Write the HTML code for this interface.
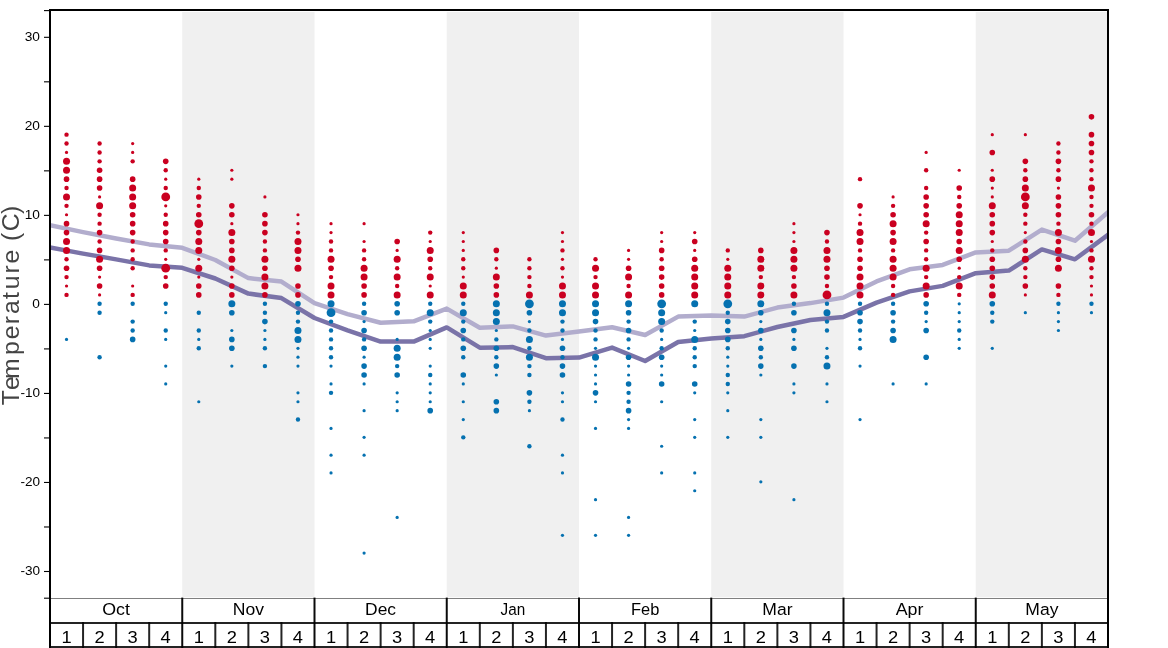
<!DOCTYPE html><html><head><meta charset="utf-8"><style>html,body{margin:0;padding:0;background:#fff;}svg{display:block;will-change:transform;}text{font-family:"Liberation Sans",sans-serif;}</style></head><body>
<svg width="1168" height="648" viewBox="0 0 1168 648">
<rect x="0" y="0" width="1168" height="648" fill="#fff"/>
<rect x="182.25" y="12" width="132.25" height="585.3" fill="#f0f0f0"/>
<rect x="446.75" y="12" width="132.25" height="585.3" fill="#f0f0f0"/>
<rect x="711.25" y="12" width="132.25" height="585.3" fill="#f0f0f0"/>
<rect x="975.75" y="12" width="132.25" height="585.3" fill="#f0f0f0"/>
<line x1="50" y1="598.5" x2="1108" y2="598.5" stroke="#808080" stroke-width="1"/>
<defs><clipPath id="c"><rect x="50" y="10" width="1058" height="588"/></clipPath></defs>
<polyline clip-path="url(#c)" points="50,225.3 83.06,232.1 116.12,238.5 149.19,244.4 182.25,247.8 215.31,260 248.38,278.1 281.44,281.6 314.5,303.2 347.56,314.1 380.62,322.7 413.69,321.3 446.75,308.6 479.81,327.8 512.88,326.4 545.94,335.6 579,331.5 612.06,327.3 645.12,335 678.19,316.6 711.25,315.6 744.31,316.6 777.38,307.6 810.44,303.1 843.5,297.6 876.56,281.4 909.62,269.3 942.69,264.9 975.75,252.4 1008.81,250.7 1041.88,229.6 1074.94,240.7 1108,212.2" fill="none" stroke="#b2adcd" stroke-width="4.5" stroke-linejoin="round" stroke-linecap="square"/>
<polyline clip-path="url(#c)" points="50,247.5 83.06,253.6 116.12,259.4 149.19,265.4 182.25,267.8 215.31,278.5 248.38,293.6 281.44,298.1 314.5,318 347.56,330.4 380.62,341.6 413.69,341.6 446.75,327.4 479.81,347.7 512.88,347.1 545.94,358.2 579,357.6 612.06,347.6 645.12,361 678.19,342 711.25,338.4 744.31,336.2 777.38,327 810.44,320 843.5,316.9 876.56,302.6 909.62,291.4 942.69,285.9 975.75,273.2 1008.81,270.6 1041.88,249.4 1074.94,259.3 1108,234.9" fill="none" stroke="#7a73a8" stroke-width="4.5" stroke-linejoin="round" stroke-linecap="square"/>
<circle cx="66.53" cy="134.64" r="2.2" fill="#ca0020"/>
<circle cx="66.53" cy="143.55" r="2.2" fill="#ca0020"/>
<circle cx="66.53" cy="152.45" r="1.6" fill="#ca0020"/>
<circle cx="66.53" cy="161.35" r="3.5" fill="#ca0020"/>
<circle cx="66.53" cy="170.25" r="3.5" fill="#ca0020"/>
<circle cx="66.53" cy="179.16" r="2.8" fill="#ca0020"/>
<circle cx="66.53" cy="188.06" r="2.2" fill="#ca0020"/>
<circle cx="66.53" cy="196.96" r="3.5" fill="#ca0020"/>
<circle cx="66.53" cy="205.87" r="2.2" fill="#ca0020"/>
<circle cx="66.53" cy="214.77" r="1.6" fill="#ca0020"/>
<circle cx="66.53" cy="223.67" r="2.8" fill="#ca0020"/>
<circle cx="66.53" cy="232.58" r="2.8" fill="#ca0020"/>
<circle cx="66.53" cy="241.48" r="3.5" fill="#ca0020"/>
<circle cx="66.53" cy="250.38" r="3.5" fill="#ca0020"/>
<circle cx="66.53" cy="259.29" r="2.2" fill="#ca0020"/>
<circle cx="66.53" cy="268.19" r="2.8" fill="#ca0020"/>
<circle cx="66.53" cy="277.09" r="2.2" fill="#ca0020"/>
<circle cx="66.53" cy="285.99" r="1.6" fill="#ca0020"/>
<circle cx="66.53" cy="294.9" r="2.2" fill="#ca0020"/>
<circle cx="66.53" cy="339.41" r="1.6" fill="#0571b0"/>
<circle cx="99.59" cy="143.55" r="2.2" fill="#ca0020"/>
<circle cx="99.59" cy="152.45" r="2.2" fill="#ca0020"/>
<circle cx="99.59" cy="161.35" r="2.2" fill="#ca0020"/>
<circle cx="99.59" cy="170.25" r="2.8" fill="#ca0020"/>
<circle cx="99.59" cy="179.16" r="2.8" fill="#ca0020"/>
<circle cx="99.59" cy="188.06" r="2.8" fill="#ca0020"/>
<circle cx="99.59" cy="196.96" r="1.6" fill="#ca0020"/>
<circle cx="99.59" cy="205.87" r="3.5" fill="#ca0020"/>
<circle cx="99.59" cy="214.77" r="2.2" fill="#ca0020"/>
<circle cx="99.59" cy="223.67" r="2.2" fill="#ca0020"/>
<circle cx="99.59" cy="232.58" r="2.8" fill="#ca0020"/>
<circle cx="99.59" cy="241.48" r="2.2" fill="#ca0020"/>
<circle cx="99.59" cy="250.38" r="2.8" fill="#ca0020"/>
<circle cx="99.59" cy="259.29" r="3.5" fill="#ca0020"/>
<circle cx="99.59" cy="268.19" r="2.8" fill="#ca0020"/>
<circle cx="99.59" cy="277.09" r="1.6" fill="#ca0020"/>
<circle cx="99.59" cy="285.99" r="2.8" fill="#ca0020"/>
<circle cx="99.59" cy="294.9" r="1.6" fill="#ca0020"/>
<circle cx="99.59" cy="303.8" r="2.2" fill="#0571b0"/>
<circle cx="99.59" cy="312.7" r="2.2" fill="#0571b0"/>
<circle cx="99.59" cy="357.22" r="2.2" fill="#0571b0"/>
<circle cx="132.66" cy="143.55" r="1.6" fill="#ca0020"/>
<circle cx="132.66" cy="152.45" r="1.6" fill="#ca0020"/>
<circle cx="132.66" cy="161.35" r="2.2" fill="#ca0020"/>
<circle cx="132.66" cy="179.16" r="2.8" fill="#ca0020"/>
<circle cx="132.66" cy="188.06" r="3.5" fill="#ca0020"/>
<circle cx="132.66" cy="196.96" r="3.5" fill="#ca0020"/>
<circle cx="132.66" cy="205.87" r="3.5" fill="#ca0020"/>
<circle cx="132.66" cy="214.77" r="2.8" fill="#ca0020"/>
<circle cx="132.66" cy="223.67" r="2.8" fill="#ca0020"/>
<circle cx="132.66" cy="232.58" r="2.8" fill="#ca0020"/>
<circle cx="132.66" cy="241.48" r="2.2" fill="#ca0020"/>
<circle cx="132.66" cy="250.38" r="2.2" fill="#ca0020"/>
<circle cx="132.66" cy="259.29" r="2.2" fill="#ca0020"/>
<circle cx="132.66" cy="268.19" r="2.2" fill="#ca0020"/>
<circle cx="132.66" cy="285.99" r="1.6" fill="#ca0020"/>
<circle cx="132.66" cy="294.9" r="2.2" fill="#ca0020"/>
<circle cx="132.66" cy="303.8" r="2.2" fill="#0571b0"/>
<circle cx="132.66" cy="321.61" r="2.2" fill="#0571b0"/>
<circle cx="132.66" cy="330.51" r="2.2" fill="#0571b0"/>
<circle cx="132.66" cy="339.41" r="2.8" fill="#0571b0"/>
<circle cx="165.72" cy="161.35" r="2.8" fill="#ca0020"/>
<circle cx="165.72" cy="170.25" r="2.2" fill="#ca0020"/>
<circle cx="165.72" cy="179.16" r="1.6" fill="#ca0020"/>
<circle cx="165.72" cy="188.06" r="2.2" fill="#ca0020"/>
<circle cx="165.72" cy="196.96" r="4.4" fill="#ca0020"/>
<circle cx="165.72" cy="205.87" r="1.6" fill="#ca0020"/>
<circle cx="165.72" cy="214.77" r="2.2" fill="#ca0020"/>
<circle cx="165.72" cy="223.67" r="2.8" fill="#ca0020"/>
<circle cx="165.72" cy="232.58" r="2.8" fill="#ca0020"/>
<circle cx="165.72" cy="241.48" r="2.8" fill="#ca0020"/>
<circle cx="165.72" cy="250.38" r="2.2" fill="#ca0020"/>
<circle cx="165.72" cy="259.29" r="1.6" fill="#ca0020"/>
<circle cx="165.72" cy="268.19" r="4.4" fill="#ca0020"/>
<circle cx="165.72" cy="277.09" r="2.2" fill="#ca0020"/>
<circle cx="165.72" cy="285.99" r="2.8" fill="#ca0020"/>
<circle cx="165.72" cy="303.8" r="2.2" fill="#0571b0"/>
<circle cx="165.72" cy="312.7" r="1.6" fill="#0571b0"/>
<circle cx="165.72" cy="330.51" r="2.2" fill="#0571b0"/>
<circle cx="165.72" cy="339.41" r="1.6" fill="#0571b0"/>
<circle cx="165.72" cy="366.12" r="1.6" fill="#0571b0"/>
<circle cx="165.72" cy="383.93" r="1.6" fill="#0571b0"/>
<circle cx="198.78" cy="179.16" r="1.6" fill="#ca0020"/>
<circle cx="198.78" cy="188.06" r="2.2" fill="#ca0020"/>
<circle cx="198.78" cy="196.96" r="2.8" fill="#ca0020"/>
<circle cx="198.78" cy="205.87" r="2.2" fill="#ca0020"/>
<circle cx="198.78" cy="214.77" r="2.8" fill="#ca0020"/>
<circle cx="198.78" cy="223.67" r="4.4" fill="#ca0020"/>
<circle cx="198.78" cy="232.58" r="2.8" fill="#ca0020"/>
<circle cx="198.78" cy="241.48" r="3.5" fill="#ca0020"/>
<circle cx="198.78" cy="250.38" r="3.5" fill="#ca0020"/>
<circle cx="198.78" cy="259.29" r="1.6" fill="#ca0020"/>
<circle cx="198.78" cy="268.19" r="3.5" fill="#ca0020"/>
<circle cx="198.78" cy="277.09" r="1.6" fill="#ca0020"/>
<circle cx="198.78" cy="285.99" r="2.8" fill="#ca0020"/>
<circle cx="198.78" cy="294.9" r="2.8" fill="#ca0020"/>
<circle cx="198.78" cy="312.7" r="2.2" fill="#0571b0"/>
<circle cx="198.78" cy="330.51" r="2.2" fill="#0571b0"/>
<circle cx="198.78" cy="339.41" r="1.6" fill="#0571b0"/>
<circle cx="198.78" cy="348.31" r="2.2" fill="#0571b0"/>
<circle cx="198.78" cy="401.73" r="1.6" fill="#0571b0"/>
<circle cx="231.84" cy="170.25" r="1.6" fill="#ca0020"/>
<circle cx="231.84" cy="179.16" r="1.6" fill="#ca0020"/>
<circle cx="231.84" cy="205.87" r="2.8" fill="#ca0020"/>
<circle cx="231.84" cy="214.77" r="2.8" fill="#ca0020"/>
<circle cx="231.84" cy="223.67" r="1.6" fill="#ca0020"/>
<circle cx="231.84" cy="232.58" r="3.5" fill="#ca0020"/>
<circle cx="231.84" cy="241.48" r="2.8" fill="#ca0020"/>
<circle cx="231.84" cy="250.38" r="2.8" fill="#ca0020"/>
<circle cx="231.84" cy="259.29" r="3.5" fill="#ca0020"/>
<circle cx="231.84" cy="268.19" r="2.8" fill="#ca0020"/>
<circle cx="231.84" cy="277.09" r="1.6" fill="#ca0020"/>
<circle cx="231.84" cy="285.99" r="2.8" fill="#ca0020"/>
<circle cx="231.84" cy="294.9" r="2.8" fill="#ca0020"/>
<circle cx="231.84" cy="303.8" r="3.5" fill="#0571b0"/>
<circle cx="231.84" cy="312.7" r="2.8" fill="#0571b0"/>
<circle cx="231.84" cy="330.51" r="1.6" fill="#0571b0"/>
<circle cx="231.84" cy="339.41" r="2.8" fill="#0571b0"/>
<circle cx="231.84" cy="348.31" r="2.8" fill="#0571b0"/>
<circle cx="231.84" cy="366.12" r="1.6" fill="#0571b0"/>
<circle cx="264.91" cy="196.96" r="1.6" fill="#ca0020"/>
<circle cx="264.91" cy="214.77" r="2.8" fill="#ca0020"/>
<circle cx="264.91" cy="223.67" r="2.8" fill="#ca0020"/>
<circle cx="264.91" cy="232.58" r="2.8" fill="#ca0020"/>
<circle cx="264.91" cy="241.48" r="2.2" fill="#ca0020"/>
<circle cx="264.91" cy="250.38" r="2.2" fill="#ca0020"/>
<circle cx="264.91" cy="259.29" r="3.5" fill="#ca0020"/>
<circle cx="264.91" cy="268.19" r="2.8" fill="#ca0020"/>
<circle cx="264.91" cy="277.09" r="3.5" fill="#ca0020"/>
<circle cx="264.91" cy="285.99" r="3.5" fill="#ca0020"/>
<circle cx="264.91" cy="294.9" r="2.8" fill="#ca0020"/>
<circle cx="264.91" cy="303.8" r="2.2" fill="#0571b0"/>
<circle cx="264.91" cy="312.7" r="2.2" fill="#0571b0"/>
<circle cx="264.91" cy="321.61" r="2.8" fill="#0571b0"/>
<circle cx="264.91" cy="330.51" r="1.6" fill="#0571b0"/>
<circle cx="264.91" cy="339.41" r="1.6" fill="#0571b0"/>
<circle cx="264.91" cy="348.31" r="2.2" fill="#0571b0"/>
<circle cx="264.91" cy="366.12" r="2.2" fill="#0571b0"/>
<circle cx="297.97" cy="214.77" r="1.6" fill="#ca0020"/>
<circle cx="297.97" cy="223.67" r="1.6" fill="#ca0020"/>
<circle cx="297.97" cy="232.58" r="2.2" fill="#ca0020"/>
<circle cx="297.97" cy="241.48" r="3.5" fill="#ca0020"/>
<circle cx="297.97" cy="250.38" r="3.5" fill="#ca0020"/>
<circle cx="297.97" cy="259.29" r="2.8" fill="#ca0020"/>
<circle cx="297.97" cy="268.19" r="3.5" fill="#ca0020"/>
<circle cx="297.97" cy="285.99" r="2.8" fill="#ca0020"/>
<circle cx="297.97" cy="294.9" r="2.8" fill="#ca0020"/>
<circle cx="297.97" cy="303.8" r="2.8" fill="#0571b0"/>
<circle cx="297.97" cy="312.7" r="2.2" fill="#0571b0"/>
<circle cx="297.97" cy="321.61" r="2.2" fill="#0571b0"/>
<circle cx="297.97" cy="330.51" r="3.5" fill="#0571b0"/>
<circle cx="297.97" cy="339.41" r="3.5" fill="#0571b0"/>
<circle cx="297.97" cy="348.31" r="1.6" fill="#0571b0"/>
<circle cx="297.97" cy="357.22" r="1.6" fill="#0571b0"/>
<circle cx="297.97" cy="366.12" r="1.6" fill="#0571b0"/>
<circle cx="297.97" cy="392.83" r="1.6" fill="#0571b0"/>
<circle cx="297.97" cy="401.73" r="1.6" fill="#0571b0"/>
<circle cx="297.97" cy="419.54" r="2.2" fill="#0571b0"/>
<circle cx="331.03" cy="223.67" r="1.6" fill="#ca0020"/>
<circle cx="331.03" cy="232.58" r="1.6" fill="#ca0020"/>
<circle cx="331.03" cy="241.48" r="2.2" fill="#ca0020"/>
<circle cx="331.03" cy="250.38" r="2.2" fill="#ca0020"/>
<circle cx="331.03" cy="259.29" r="3.5" fill="#ca0020"/>
<circle cx="331.03" cy="268.19" r="2.8" fill="#ca0020"/>
<circle cx="331.03" cy="277.09" r="2.2" fill="#ca0020"/>
<circle cx="331.03" cy="285.99" r="3.5" fill="#ca0020"/>
<circle cx="331.03" cy="294.9" r="3.5" fill="#ca0020"/>
<circle cx="331.03" cy="303.8" r="3.5" fill="#0571b0"/>
<circle cx="331.03" cy="312.7" r="4.4" fill="#0571b0"/>
<circle cx="331.03" cy="321.61" r="2.2" fill="#0571b0"/>
<circle cx="331.03" cy="330.51" r="2.2" fill="#0571b0"/>
<circle cx="331.03" cy="339.41" r="2.2" fill="#0571b0"/>
<circle cx="331.03" cy="348.31" r="2.2" fill="#0571b0"/>
<circle cx="331.03" cy="357.22" r="2.2" fill="#0571b0"/>
<circle cx="331.03" cy="366.12" r="1.6" fill="#0571b0"/>
<circle cx="331.03" cy="383.93" r="1.6" fill="#0571b0"/>
<circle cx="331.03" cy="392.83" r="2.2" fill="#0571b0"/>
<circle cx="331.03" cy="428.44" r="1.6" fill="#0571b0"/>
<circle cx="331.03" cy="455.15" r="1.6" fill="#0571b0"/>
<circle cx="331.03" cy="472.96" r="1.6" fill="#0571b0"/>
<circle cx="364.09" cy="223.67" r="1.6" fill="#ca0020"/>
<circle cx="364.09" cy="241.48" r="1.6" fill="#ca0020"/>
<circle cx="364.09" cy="250.38" r="2.2" fill="#ca0020"/>
<circle cx="364.09" cy="259.29" r="2.2" fill="#ca0020"/>
<circle cx="364.09" cy="268.19" r="3.5" fill="#ca0020"/>
<circle cx="364.09" cy="277.09" r="3.5" fill="#ca0020"/>
<circle cx="364.09" cy="285.99" r="2.8" fill="#ca0020"/>
<circle cx="364.09" cy="294.9" r="2.8" fill="#ca0020"/>
<circle cx="364.09" cy="303.8" r="2.2" fill="#0571b0"/>
<circle cx="364.09" cy="312.7" r="2.8" fill="#0571b0"/>
<circle cx="364.09" cy="321.61" r="1.6" fill="#0571b0"/>
<circle cx="364.09" cy="330.51" r="2.8" fill="#0571b0"/>
<circle cx="364.09" cy="339.41" r="2.2" fill="#0571b0"/>
<circle cx="364.09" cy="348.31" r="2.8" fill="#0571b0"/>
<circle cx="364.09" cy="357.22" r="1.6" fill="#0571b0"/>
<circle cx="364.09" cy="366.12" r="2.8" fill="#0571b0"/>
<circle cx="364.09" cy="375.02" r="2.8" fill="#0571b0"/>
<circle cx="364.09" cy="383.93" r="1.6" fill="#0571b0"/>
<circle cx="364.09" cy="410.64" r="1.6" fill="#0571b0"/>
<circle cx="364.09" cy="437.35" r="1.6" fill="#0571b0"/>
<circle cx="364.09" cy="455.15" r="1.6" fill="#0571b0"/>
<circle cx="364.09" cy="553.08" r="1.6" fill="#0571b0"/>
<circle cx="397.16" cy="241.48" r="2.8" fill="#ca0020"/>
<circle cx="397.16" cy="250.38" r="1.6" fill="#ca0020"/>
<circle cx="397.16" cy="259.29" r="3.5" fill="#ca0020"/>
<circle cx="397.16" cy="268.19" r="2.2" fill="#ca0020"/>
<circle cx="397.16" cy="277.09" r="3.5" fill="#ca0020"/>
<circle cx="397.16" cy="285.99" r="2.2" fill="#ca0020"/>
<circle cx="397.16" cy="294.9" r="3.5" fill="#ca0020"/>
<circle cx="397.16" cy="303.8" r="2.8" fill="#0571b0"/>
<circle cx="397.16" cy="312.7" r="2.8" fill="#0571b0"/>
<circle cx="397.16" cy="339.41" r="1.6" fill="#0571b0"/>
<circle cx="397.16" cy="348.31" r="3.5" fill="#0571b0"/>
<circle cx="397.16" cy="357.22" r="3.5" fill="#0571b0"/>
<circle cx="397.16" cy="366.12" r="2.2" fill="#0571b0"/>
<circle cx="397.16" cy="375.02" r="2.8" fill="#0571b0"/>
<circle cx="397.16" cy="392.83" r="1.6" fill="#0571b0"/>
<circle cx="397.16" cy="401.73" r="1.6" fill="#0571b0"/>
<circle cx="397.16" cy="410.64" r="1.6" fill="#0571b0"/>
<circle cx="397.16" cy="517.47" r="1.6" fill="#0571b0"/>
<circle cx="430.22" cy="232.58" r="2.2" fill="#ca0020"/>
<circle cx="430.22" cy="241.48" r="1.6" fill="#ca0020"/>
<circle cx="430.22" cy="250.38" r="3.5" fill="#ca0020"/>
<circle cx="430.22" cy="259.29" r="2.8" fill="#ca0020"/>
<circle cx="430.22" cy="268.19" r="2.2" fill="#ca0020"/>
<circle cx="430.22" cy="277.09" r="3.5" fill="#ca0020"/>
<circle cx="430.22" cy="285.99" r="1.6" fill="#ca0020"/>
<circle cx="430.22" cy="294.9" r="3.5" fill="#ca0020"/>
<circle cx="430.22" cy="303.8" r="2.2" fill="#0571b0"/>
<circle cx="430.22" cy="312.7" r="3.5" fill="#0571b0"/>
<circle cx="430.22" cy="321.61" r="2.2" fill="#0571b0"/>
<circle cx="430.22" cy="330.51" r="1.6" fill="#0571b0"/>
<circle cx="430.22" cy="339.41" r="1.6" fill="#0571b0"/>
<circle cx="430.22" cy="348.31" r="1.6" fill="#0571b0"/>
<circle cx="430.22" cy="366.12" r="1.6" fill="#0571b0"/>
<circle cx="430.22" cy="375.02" r="2.2" fill="#0571b0"/>
<circle cx="430.22" cy="383.93" r="1.6" fill="#0571b0"/>
<circle cx="430.22" cy="392.83" r="1.6" fill="#0571b0"/>
<circle cx="430.22" cy="401.73" r="1.6" fill="#0571b0"/>
<circle cx="430.22" cy="410.64" r="2.8" fill="#0571b0"/>
<circle cx="463.28" cy="232.58" r="1.6" fill="#ca0020"/>
<circle cx="463.28" cy="241.48" r="1.6" fill="#ca0020"/>
<circle cx="463.28" cy="250.38" r="1.6" fill="#ca0020"/>
<circle cx="463.28" cy="259.29" r="2.2" fill="#ca0020"/>
<circle cx="463.28" cy="268.19" r="2.2" fill="#ca0020"/>
<circle cx="463.28" cy="277.09" r="1.6" fill="#ca0020"/>
<circle cx="463.28" cy="285.99" r="3.5" fill="#ca0020"/>
<circle cx="463.28" cy="294.9" r="3.5" fill="#ca0020"/>
<circle cx="463.28" cy="303.8" r="2.2" fill="#0571b0"/>
<circle cx="463.28" cy="312.7" r="3.5" fill="#0571b0"/>
<circle cx="463.28" cy="321.61" r="2.2" fill="#0571b0"/>
<circle cx="463.28" cy="330.51" r="2.8" fill="#0571b0"/>
<circle cx="463.28" cy="339.41" r="2.2" fill="#0571b0"/>
<circle cx="463.28" cy="348.31" r="2.8" fill="#0571b0"/>
<circle cx="463.28" cy="357.22" r="2.2" fill="#0571b0"/>
<circle cx="463.28" cy="375.02" r="2.8" fill="#0571b0"/>
<circle cx="463.28" cy="383.93" r="1.6" fill="#0571b0"/>
<circle cx="463.28" cy="401.73" r="1.6" fill="#0571b0"/>
<circle cx="463.28" cy="419.54" r="1.6" fill="#0571b0"/>
<circle cx="463.28" cy="437.35" r="2.2" fill="#0571b0"/>
<circle cx="496.34" cy="250.38" r="2.8" fill="#ca0020"/>
<circle cx="496.34" cy="259.29" r="2.2" fill="#ca0020"/>
<circle cx="496.34" cy="268.19" r="1.6" fill="#ca0020"/>
<circle cx="496.34" cy="277.09" r="3.5" fill="#ca0020"/>
<circle cx="496.34" cy="285.99" r="2.8" fill="#ca0020"/>
<circle cx="496.34" cy="294.9" r="2.8" fill="#ca0020"/>
<circle cx="496.34" cy="303.8" r="3.5" fill="#0571b0"/>
<circle cx="496.34" cy="312.7" r="3.5" fill="#0571b0"/>
<circle cx="496.34" cy="321.61" r="3.5" fill="#0571b0"/>
<circle cx="496.34" cy="330.51" r="1.6" fill="#0571b0"/>
<circle cx="496.34" cy="339.41" r="2.2" fill="#0571b0"/>
<circle cx="496.34" cy="348.31" r="2.8" fill="#0571b0"/>
<circle cx="496.34" cy="357.22" r="2.2" fill="#0571b0"/>
<circle cx="496.34" cy="366.12" r="2.8" fill="#0571b0"/>
<circle cx="496.34" cy="375.02" r="1.6" fill="#0571b0"/>
<circle cx="496.34" cy="401.73" r="2.8" fill="#0571b0"/>
<circle cx="496.34" cy="410.64" r="2.8" fill="#0571b0"/>
<circle cx="529.41" cy="259.29" r="2.2" fill="#ca0020"/>
<circle cx="529.41" cy="268.19" r="2.2" fill="#ca0020"/>
<circle cx="529.41" cy="277.09" r="2.2" fill="#ca0020"/>
<circle cx="529.41" cy="285.99" r="2.2" fill="#ca0020"/>
<circle cx="529.41" cy="294.9" r="3.5" fill="#ca0020"/>
<circle cx="529.41" cy="303.8" r="4.4" fill="#0571b0"/>
<circle cx="529.41" cy="312.7" r="2.8" fill="#0571b0"/>
<circle cx="529.41" cy="321.61" r="1.6" fill="#0571b0"/>
<circle cx="529.41" cy="330.51" r="2.2" fill="#0571b0"/>
<circle cx="529.41" cy="339.41" r="3.5" fill="#0571b0"/>
<circle cx="529.41" cy="348.31" r="2.2" fill="#0571b0"/>
<circle cx="529.41" cy="357.22" r="3.5" fill="#0571b0"/>
<circle cx="529.41" cy="366.12" r="2.2" fill="#0571b0"/>
<circle cx="529.41" cy="375.02" r="2.2" fill="#0571b0"/>
<circle cx="529.41" cy="392.83" r="2.8" fill="#0571b0"/>
<circle cx="529.41" cy="401.73" r="2.2" fill="#0571b0"/>
<circle cx="529.41" cy="410.64" r="1.6" fill="#0571b0"/>
<circle cx="529.41" cy="446.25" r="2.2" fill="#0571b0"/>
<circle cx="562.47" cy="232.58" r="1.6" fill="#ca0020"/>
<circle cx="562.47" cy="241.48" r="1.6" fill="#ca0020"/>
<circle cx="562.47" cy="250.38" r="2.2" fill="#ca0020"/>
<circle cx="562.47" cy="259.29" r="1.6" fill="#ca0020"/>
<circle cx="562.47" cy="268.19" r="2.2" fill="#ca0020"/>
<circle cx="562.47" cy="277.09" r="1.6" fill="#ca0020"/>
<circle cx="562.47" cy="285.99" r="3.5" fill="#ca0020"/>
<circle cx="562.47" cy="294.9" r="3.5" fill="#ca0020"/>
<circle cx="562.47" cy="303.8" r="3.5" fill="#0571b0"/>
<circle cx="562.47" cy="312.7" r="3.5" fill="#0571b0"/>
<circle cx="562.47" cy="321.61" r="2.2" fill="#0571b0"/>
<circle cx="562.47" cy="330.51" r="2.2" fill="#0571b0"/>
<circle cx="562.47" cy="339.41" r="1.6" fill="#0571b0"/>
<circle cx="562.47" cy="348.31" r="2.8" fill="#0571b0"/>
<circle cx="562.47" cy="357.22" r="2.2" fill="#0571b0"/>
<circle cx="562.47" cy="366.12" r="2.8" fill="#0571b0"/>
<circle cx="562.47" cy="375.02" r="2.8" fill="#0571b0"/>
<circle cx="562.47" cy="392.83" r="1.6" fill="#0571b0"/>
<circle cx="562.47" cy="401.73" r="1.6" fill="#0571b0"/>
<circle cx="562.47" cy="419.54" r="2.2" fill="#0571b0"/>
<circle cx="562.47" cy="455.15" r="1.6" fill="#0571b0"/>
<circle cx="562.47" cy="472.96" r="1.6" fill="#0571b0"/>
<circle cx="562.47" cy="535.28" r="1.6" fill="#0571b0"/>
<circle cx="595.53" cy="259.29" r="2.2" fill="#ca0020"/>
<circle cx="595.53" cy="268.19" r="3.5" fill="#ca0020"/>
<circle cx="595.53" cy="277.09" r="2.2" fill="#ca0020"/>
<circle cx="595.53" cy="285.99" r="3.5" fill="#ca0020"/>
<circle cx="595.53" cy="294.9" r="3.5" fill="#ca0020"/>
<circle cx="595.53" cy="303.8" r="3.5" fill="#0571b0"/>
<circle cx="595.53" cy="312.7" r="3.5" fill="#0571b0"/>
<circle cx="595.53" cy="321.61" r="2.8" fill="#0571b0"/>
<circle cx="595.53" cy="330.51" r="2.2" fill="#0571b0"/>
<circle cx="595.53" cy="339.41" r="2.2" fill="#0571b0"/>
<circle cx="595.53" cy="348.31" r="1.6" fill="#0571b0"/>
<circle cx="595.53" cy="357.22" r="3.5" fill="#0571b0"/>
<circle cx="595.53" cy="366.12" r="1.6" fill="#0571b0"/>
<circle cx="595.53" cy="375.02" r="1.6" fill="#0571b0"/>
<circle cx="595.53" cy="383.93" r="1.6" fill="#0571b0"/>
<circle cx="595.53" cy="392.83" r="2.8" fill="#0571b0"/>
<circle cx="595.53" cy="401.73" r="1.6" fill="#0571b0"/>
<circle cx="595.53" cy="428.44" r="1.6" fill="#0571b0"/>
<circle cx="595.53" cy="499.67" r="1.6" fill="#0571b0"/>
<circle cx="595.53" cy="535.28" r="1.6" fill="#0571b0"/>
<circle cx="628.59" cy="250.38" r="1.6" fill="#ca0020"/>
<circle cx="628.59" cy="259.29" r="1.6" fill="#ca0020"/>
<circle cx="628.59" cy="268.19" r="2.8" fill="#ca0020"/>
<circle cx="628.59" cy="277.09" r="3.5" fill="#ca0020"/>
<circle cx="628.59" cy="285.99" r="2.2" fill="#ca0020"/>
<circle cx="628.59" cy="294.9" r="3.5" fill="#ca0020"/>
<circle cx="628.59" cy="303.8" r="3.5" fill="#0571b0"/>
<circle cx="628.59" cy="312.7" r="2.8" fill="#0571b0"/>
<circle cx="628.59" cy="321.61" r="2.2" fill="#0571b0"/>
<circle cx="628.59" cy="330.51" r="2.8" fill="#0571b0"/>
<circle cx="628.59" cy="339.41" r="2.2" fill="#0571b0"/>
<circle cx="628.59" cy="348.31" r="1.6" fill="#0571b0"/>
<circle cx="628.59" cy="357.22" r="2.8" fill="#0571b0"/>
<circle cx="628.59" cy="366.12" r="1.6" fill="#0571b0"/>
<circle cx="628.59" cy="375.02" r="1.6" fill="#0571b0"/>
<circle cx="628.59" cy="383.93" r="2.8" fill="#0571b0"/>
<circle cx="628.59" cy="392.83" r="2.2" fill="#0571b0"/>
<circle cx="628.59" cy="401.73" r="2.2" fill="#0571b0"/>
<circle cx="628.59" cy="410.64" r="2.8" fill="#0571b0"/>
<circle cx="628.59" cy="419.54" r="1.6" fill="#0571b0"/>
<circle cx="628.59" cy="428.44" r="1.6" fill="#0571b0"/>
<circle cx="628.59" cy="517.47" r="1.6" fill="#0571b0"/>
<circle cx="628.59" cy="535.28" r="1.6" fill="#0571b0"/>
<circle cx="661.66" cy="232.58" r="1.6" fill="#ca0020"/>
<circle cx="661.66" cy="241.48" r="1.6" fill="#ca0020"/>
<circle cx="661.66" cy="250.38" r="2.8" fill="#ca0020"/>
<circle cx="661.66" cy="259.29" r="2.2" fill="#ca0020"/>
<circle cx="661.66" cy="268.19" r="2.8" fill="#ca0020"/>
<circle cx="661.66" cy="277.09" r="2.8" fill="#ca0020"/>
<circle cx="661.66" cy="285.99" r="2.8" fill="#ca0020"/>
<circle cx="661.66" cy="294.9" r="2.8" fill="#ca0020"/>
<circle cx="661.66" cy="303.8" r="4.4" fill="#0571b0"/>
<circle cx="661.66" cy="312.7" r="3.5" fill="#0571b0"/>
<circle cx="661.66" cy="321.61" r="3.5" fill="#0571b0"/>
<circle cx="661.66" cy="330.51" r="2.2" fill="#0571b0"/>
<circle cx="661.66" cy="339.41" r="1.6" fill="#0571b0"/>
<circle cx="661.66" cy="348.31" r="2.2" fill="#0571b0"/>
<circle cx="661.66" cy="357.22" r="2.8" fill="#0571b0"/>
<circle cx="661.66" cy="366.12" r="1.6" fill="#0571b0"/>
<circle cx="661.66" cy="375.02" r="1.6" fill="#0571b0"/>
<circle cx="661.66" cy="383.93" r="2.8" fill="#0571b0"/>
<circle cx="661.66" cy="401.73" r="1.6" fill="#0571b0"/>
<circle cx="661.66" cy="446.25" r="1.6" fill="#0571b0"/>
<circle cx="661.66" cy="472.96" r="1.6" fill="#0571b0"/>
<circle cx="694.72" cy="232.58" r="1.6" fill="#ca0020"/>
<circle cx="694.72" cy="241.48" r="2.8" fill="#ca0020"/>
<circle cx="694.72" cy="250.38" r="1.6" fill="#ca0020"/>
<circle cx="694.72" cy="259.29" r="2.8" fill="#ca0020"/>
<circle cx="694.72" cy="268.19" r="3.5" fill="#ca0020"/>
<circle cx="694.72" cy="277.09" r="3.5" fill="#ca0020"/>
<circle cx="694.72" cy="285.99" r="3.5" fill="#ca0020"/>
<circle cx="694.72" cy="294.9" r="3.5" fill="#ca0020"/>
<circle cx="694.72" cy="303.8" r="3.5" fill="#0571b0"/>
<circle cx="694.72" cy="321.61" r="2.2" fill="#0571b0"/>
<circle cx="694.72" cy="330.51" r="1.6" fill="#0571b0"/>
<circle cx="694.72" cy="339.41" r="3.5" fill="#0571b0"/>
<circle cx="694.72" cy="348.31" r="2.2" fill="#0571b0"/>
<circle cx="694.72" cy="357.22" r="2.2" fill="#0571b0"/>
<circle cx="694.72" cy="366.12" r="2.2" fill="#0571b0"/>
<circle cx="694.72" cy="383.93" r="2.8" fill="#0571b0"/>
<circle cx="694.72" cy="392.83" r="1.6" fill="#0571b0"/>
<circle cx="694.72" cy="419.54" r="1.6" fill="#0571b0"/>
<circle cx="694.72" cy="437.35" r="1.6" fill="#0571b0"/>
<circle cx="694.72" cy="472.96" r="1.6" fill="#0571b0"/>
<circle cx="694.72" cy="490.76" r="1.6" fill="#0571b0"/>
<circle cx="727.78" cy="250.38" r="2.2" fill="#ca0020"/>
<circle cx="727.78" cy="259.29" r="1.6" fill="#ca0020"/>
<circle cx="727.78" cy="268.19" r="3.5" fill="#ca0020"/>
<circle cx="727.78" cy="277.09" r="3.5" fill="#ca0020"/>
<circle cx="727.78" cy="285.99" r="3.5" fill="#ca0020"/>
<circle cx="727.78" cy="294.9" r="3.5" fill="#ca0020"/>
<circle cx="727.78" cy="303.8" r="4.4" fill="#0571b0"/>
<circle cx="727.78" cy="312.7" r="2.2" fill="#0571b0"/>
<circle cx="727.78" cy="321.61" r="2.8" fill="#0571b0"/>
<circle cx="727.78" cy="330.51" r="2.8" fill="#0571b0"/>
<circle cx="727.78" cy="339.41" r="2.8" fill="#0571b0"/>
<circle cx="727.78" cy="348.31" r="2.2" fill="#0571b0"/>
<circle cx="727.78" cy="357.22" r="1.6" fill="#0571b0"/>
<circle cx="727.78" cy="366.12" r="1.6" fill="#0571b0"/>
<circle cx="727.78" cy="375.02" r="2.2" fill="#0571b0"/>
<circle cx="727.78" cy="383.93" r="2.2" fill="#0571b0"/>
<circle cx="727.78" cy="392.83" r="1.6" fill="#0571b0"/>
<circle cx="727.78" cy="410.64" r="1.6" fill="#0571b0"/>
<circle cx="727.78" cy="437.35" r="1.6" fill="#0571b0"/>
<circle cx="760.84" cy="250.38" r="2.8" fill="#ca0020"/>
<circle cx="760.84" cy="259.29" r="3.5" fill="#ca0020"/>
<circle cx="760.84" cy="268.19" r="3.5" fill="#ca0020"/>
<circle cx="760.84" cy="277.09" r="2.2" fill="#ca0020"/>
<circle cx="760.84" cy="285.99" r="3.5" fill="#ca0020"/>
<circle cx="760.84" cy="294.9" r="3.5" fill="#ca0020"/>
<circle cx="760.84" cy="303.8" r="3.5" fill="#0571b0"/>
<circle cx="760.84" cy="312.7" r="2.8" fill="#0571b0"/>
<circle cx="760.84" cy="321.61" r="1.6" fill="#0571b0"/>
<circle cx="760.84" cy="330.51" r="2.8" fill="#0571b0"/>
<circle cx="760.84" cy="339.41" r="1.6" fill="#0571b0"/>
<circle cx="760.84" cy="348.31" r="2.8" fill="#0571b0"/>
<circle cx="760.84" cy="357.22" r="2.2" fill="#0571b0"/>
<circle cx="760.84" cy="366.12" r="2.8" fill="#0571b0"/>
<circle cx="760.84" cy="375.02" r="1.6" fill="#0571b0"/>
<circle cx="760.84" cy="419.54" r="1.6" fill="#0571b0"/>
<circle cx="760.84" cy="437.35" r="1.6" fill="#0571b0"/>
<circle cx="760.84" cy="481.86" r="1.6" fill="#0571b0"/>
<circle cx="793.91" cy="223.67" r="1.6" fill="#ca0020"/>
<circle cx="793.91" cy="232.58" r="1.6" fill="#ca0020"/>
<circle cx="793.91" cy="241.48" r="1.6" fill="#ca0020"/>
<circle cx="793.91" cy="250.38" r="3.5" fill="#ca0020"/>
<circle cx="793.91" cy="259.29" r="3.5" fill="#ca0020"/>
<circle cx="793.91" cy="268.19" r="3.5" fill="#ca0020"/>
<circle cx="793.91" cy="277.09" r="2.2" fill="#ca0020"/>
<circle cx="793.91" cy="285.99" r="2.8" fill="#ca0020"/>
<circle cx="793.91" cy="294.9" r="3.5" fill="#ca0020"/>
<circle cx="793.91" cy="303.8" r="2.2" fill="#0571b0"/>
<circle cx="793.91" cy="312.7" r="2.8" fill="#0571b0"/>
<circle cx="793.91" cy="330.51" r="2.8" fill="#0571b0"/>
<circle cx="793.91" cy="339.41" r="1.6" fill="#0571b0"/>
<circle cx="793.91" cy="348.31" r="2.8" fill="#0571b0"/>
<circle cx="793.91" cy="366.12" r="2.8" fill="#0571b0"/>
<circle cx="793.91" cy="383.93" r="1.6" fill="#0571b0"/>
<circle cx="793.91" cy="392.83" r="1.6" fill="#0571b0"/>
<circle cx="793.91" cy="499.67" r="1.6" fill="#0571b0"/>
<circle cx="826.97" cy="232.58" r="2.8" fill="#ca0020"/>
<circle cx="826.97" cy="241.48" r="2.2" fill="#ca0020"/>
<circle cx="826.97" cy="250.38" r="3.5" fill="#ca0020"/>
<circle cx="826.97" cy="259.29" r="3.5" fill="#ca0020"/>
<circle cx="826.97" cy="268.19" r="2.8" fill="#ca0020"/>
<circle cx="826.97" cy="277.09" r="2.8" fill="#ca0020"/>
<circle cx="826.97" cy="285.99" r="2.2" fill="#ca0020"/>
<circle cx="826.97" cy="294.9" r="4.4" fill="#ca0020"/>
<circle cx="826.97" cy="303.8" r="2.2" fill="#0571b0"/>
<circle cx="826.97" cy="312.7" r="3.5" fill="#0571b0"/>
<circle cx="826.97" cy="321.61" r="2.2" fill="#0571b0"/>
<circle cx="826.97" cy="330.51" r="2.2" fill="#0571b0"/>
<circle cx="826.97" cy="348.31" r="1.6" fill="#0571b0"/>
<circle cx="826.97" cy="357.22" r="2.2" fill="#0571b0"/>
<circle cx="826.97" cy="366.12" r="3.5" fill="#0571b0"/>
<circle cx="826.97" cy="383.93" r="1.6" fill="#0571b0"/>
<circle cx="826.97" cy="401.73" r="1.6" fill="#0571b0"/>
<circle cx="860.03" cy="179.16" r="2.2" fill="#ca0020"/>
<circle cx="860.03" cy="205.87" r="2.8" fill="#ca0020"/>
<circle cx="860.03" cy="214.77" r="1.6" fill="#ca0020"/>
<circle cx="860.03" cy="223.67" r="2.2" fill="#ca0020"/>
<circle cx="860.03" cy="232.58" r="3.5" fill="#ca0020"/>
<circle cx="860.03" cy="241.48" r="3.5" fill="#ca0020"/>
<circle cx="860.03" cy="250.38" r="2.2" fill="#ca0020"/>
<circle cx="860.03" cy="259.29" r="2.8" fill="#ca0020"/>
<circle cx="860.03" cy="268.19" r="2.8" fill="#ca0020"/>
<circle cx="860.03" cy="277.09" r="3.5" fill="#ca0020"/>
<circle cx="860.03" cy="285.99" r="3.5" fill="#ca0020"/>
<circle cx="860.03" cy="294.9" r="3.5" fill="#ca0020"/>
<circle cx="860.03" cy="303.8" r="2.2" fill="#0571b0"/>
<circle cx="860.03" cy="312.7" r="2.8" fill="#0571b0"/>
<circle cx="860.03" cy="321.61" r="2.8" fill="#0571b0"/>
<circle cx="860.03" cy="330.51" r="2.2" fill="#0571b0"/>
<circle cx="860.03" cy="339.41" r="1.6" fill="#0571b0"/>
<circle cx="860.03" cy="348.31" r="2.2" fill="#0571b0"/>
<circle cx="860.03" cy="366.12" r="1.6" fill="#0571b0"/>
<circle cx="860.03" cy="419.54" r="1.6" fill="#0571b0"/>
<circle cx="893.09" cy="196.96" r="1.6" fill="#ca0020"/>
<circle cx="893.09" cy="205.87" r="2.2" fill="#ca0020"/>
<circle cx="893.09" cy="214.77" r="2.8" fill="#ca0020"/>
<circle cx="893.09" cy="223.67" r="3.5" fill="#ca0020"/>
<circle cx="893.09" cy="232.58" r="2.8" fill="#ca0020"/>
<circle cx="893.09" cy="241.48" r="3.5" fill="#ca0020"/>
<circle cx="893.09" cy="250.38" r="2.2" fill="#ca0020"/>
<circle cx="893.09" cy="259.29" r="3.5" fill="#ca0020"/>
<circle cx="893.09" cy="268.19" r="3.5" fill="#ca0020"/>
<circle cx="893.09" cy="277.09" r="3.5" fill="#ca0020"/>
<circle cx="893.09" cy="285.99" r="2.2" fill="#ca0020"/>
<circle cx="893.09" cy="294.9" r="2.2" fill="#ca0020"/>
<circle cx="893.09" cy="303.8" r="2.2" fill="#0571b0"/>
<circle cx="893.09" cy="312.7" r="2.8" fill="#0571b0"/>
<circle cx="893.09" cy="321.61" r="2.2" fill="#0571b0"/>
<circle cx="893.09" cy="330.51" r="2.8" fill="#0571b0"/>
<circle cx="893.09" cy="339.41" r="3.5" fill="#0571b0"/>
<circle cx="893.09" cy="383.93" r="1.6" fill="#0571b0"/>
<circle cx="926.16" cy="152.45" r="1.6" fill="#ca0020"/>
<circle cx="926.16" cy="170.25" r="2.2" fill="#ca0020"/>
<circle cx="926.16" cy="188.06" r="2.2" fill="#ca0020"/>
<circle cx="926.16" cy="196.96" r="2.8" fill="#ca0020"/>
<circle cx="926.16" cy="205.87" r="2.8" fill="#ca0020"/>
<circle cx="926.16" cy="214.77" r="2.8" fill="#ca0020"/>
<circle cx="926.16" cy="223.67" r="3.5" fill="#ca0020"/>
<circle cx="926.16" cy="232.58" r="2.2" fill="#ca0020"/>
<circle cx="926.16" cy="241.48" r="2.8" fill="#ca0020"/>
<circle cx="926.16" cy="250.38" r="2.2" fill="#ca0020"/>
<circle cx="926.16" cy="259.29" r="2.2" fill="#ca0020"/>
<circle cx="926.16" cy="268.19" r="3.5" fill="#ca0020"/>
<circle cx="926.16" cy="277.09" r="2.2" fill="#ca0020"/>
<circle cx="926.16" cy="285.99" r="3.5" fill="#ca0020"/>
<circle cx="926.16" cy="294.9" r="2.8" fill="#ca0020"/>
<circle cx="926.16" cy="303.8" r="2.8" fill="#0571b0"/>
<circle cx="926.16" cy="312.7" r="2.2" fill="#0571b0"/>
<circle cx="926.16" cy="321.61" r="1.6" fill="#0571b0"/>
<circle cx="926.16" cy="330.51" r="2.8" fill="#0571b0"/>
<circle cx="926.16" cy="357.22" r="2.8" fill="#0571b0"/>
<circle cx="926.16" cy="383.93" r="1.6" fill="#0571b0"/>
<circle cx="959.22" cy="170.25" r="1.6" fill="#ca0020"/>
<circle cx="959.22" cy="188.06" r="2.8" fill="#ca0020"/>
<circle cx="959.22" cy="196.96" r="2.2" fill="#ca0020"/>
<circle cx="959.22" cy="205.87" r="2.8" fill="#ca0020"/>
<circle cx="959.22" cy="214.77" r="3.5" fill="#ca0020"/>
<circle cx="959.22" cy="223.67" r="3.5" fill="#ca0020"/>
<circle cx="959.22" cy="232.58" r="3.5" fill="#ca0020"/>
<circle cx="959.22" cy="241.48" r="2.8" fill="#ca0020"/>
<circle cx="959.22" cy="250.38" r="3.5" fill="#ca0020"/>
<circle cx="959.22" cy="259.29" r="2.8" fill="#ca0020"/>
<circle cx="959.22" cy="268.19" r="1.6" fill="#ca0020"/>
<circle cx="959.22" cy="277.09" r="2.2" fill="#ca0020"/>
<circle cx="959.22" cy="285.99" r="3.5" fill="#ca0020"/>
<circle cx="959.22" cy="294.9" r="2.2" fill="#ca0020"/>
<circle cx="959.22" cy="303.8" r="1.6" fill="#0571b0"/>
<circle cx="959.22" cy="312.7" r="1.6" fill="#0571b0"/>
<circle cx="959.22" cy="321.61" r="1.6" fill="#0571b0"/>
<circle cx="959.22" cy="330.51" r="2.2" fill="#0571b0"/>
<circle cx="959.22" cy="339.41" r="1.6" fill="#0571b0"/>
<circle cx="959.22" cy="348.31" r="1.6" fill="#0571b0"/>
<circle cx="992.28" cy="134.64" r="1.6" fill="#ca0020"/>
<circle cx="992.28" cy="152.45" r="2.8" fill="#ca0020"/>
<circle cx="992.28" cy="170.25" r="1.6" fill="#ca0020"/>
<circle cx="992.28" cy="179.16" r="2.8" fill="#ca0020"/>
<circle cx="992.28" cy="188.06" r="1.6" fill="#ca0020"/>
<circle cx="992.28" cy="196.96" r="1.6" fill="#ca0020"/>
<circle cx="992.28" cy="205.87" r="3.5" fill="#ca0020"/>
<circle cx="992.28" cy="214.77" r="2.8" fill="#ca0020"/>
<circle cx="992.28" cy="223.67" r="2.8" fill="#ca0020"/>
<circle cx="992.28" cy="232.58" r="2.8" fill="#ca0020"/>
<circle cx="992.28" cy="241.48" r="1.6" fill="#ca0020"/>
<circle cx="992.28" cy="250.38" r="2.2" fill="#ca0020"/>
<circle cx="992.28" cy="259.29" r="2.8" fill="#ca0020"/>
<circle cx="992.28" cy="268.19" r="2.8" fill="#ca0020"/>
<circle cx="992.28" cy="277.09" r="2.8" fill="#ca0020"/>
<circle cx="992.28" cy="285.99" r="2.8" fill="#ca0020"/>
<circle cx="992.28" cy="294.9" r="3.5" fill="#ca0020"/>
<circle cx="992.28" cy="303.8" r="2.8" fill="#0571b0"/>
<circle cx="992.28" cy="312.7" r="2.2" fill="#0571b0"/>
<circle cx="992.28" cy="321.61" r="2.2" fill="#0571b0"/>
<circle cx="992.28" cy="348.31" r="1.6" fill="#0571b0"/>
<circle cx="1025.34" cy="134.64" r="1.6" fill="#ca0020"/>
<circle cx="1025.34" cy="161.35" r="2.8" fill="#ca0020"/>
<circle cx="1025.34" cy="170.25" r="2.2" fill="#ca0020"/>
<circle cx="1025.34" cy="179.16" r="2.8" fill="#ca0020"/>
<circle cx="1025.34" cy="188.06" r="3.5" fill="#ca0020"/>
<circle cx="1025.34" cy="196.96" r="4.4" fill="#ca0020"/>
<circle cx="1025.34" cy="205.87" r="3.5" fill="#ca0020"/>
<circle cx="1025.34" cy="214.77" r="2.2" fill="#ca0020"/>
<circle cx="1025.34" cy="223.67" r="2.2" fill="#ca0020"/>
<circle cx="1025.34" cy="232.58" r="1.6" fill="#ca0020"/>
<circle cx="1025.34" cy="241.48" r="2.2" fill="#ca0020"/>
<circle cx="1025.34" cy="250.38" r="2.8" fill="#ca0020"/>
<circle cx="1025.34" cy="259.29" r="3.5" fill="#ca0020"/>
<circle cx="1025.34" cy="268.19" r="2.2" fill="#ca0020"/>
<circle cx="1025.34" cy="277.09" r="2.2" fill="#ca0020"/>
<circle cx="1025.34" cy="285.99" r="2.8" fill="#ca0020"/>
<circle cx="1025.34" cy="294.9" r="1.6" fill="#ca0020"/>
<circle cx="1025.34" cy="312.7" r="1.6" fill="#0571b0"/>
<circle cx="1058.41" cy="143.55" r="2.2" fill="#ca0020"/>
<circle cx="1058.41" cy="152.45" r="2.2" fill="#ca0020"/>
<circle cx="1058.41" cy="161.35" r="2.8" fill="#ca0020"/>
<circle cx="1058.41" cy="170.25" r="2.2" fill="#ca0020"/>
<circle cx="1058.41" cy="179.16" r="2.8" fill="#ca0020"/>
<circle cx="1058.41" cy="188.06" r="1.6" fill="#ca0020"/>
<circle cx="1058.41" cy="196.96" r="2.8" fill="#ca0020"/>
<circle cx="1058.41" cy="205.87" r="2.8" fill="#ca0020"/>
<circle cx="1058.41" cy="214.77" r="2.8" fill="#ca0020"/>
<circle cx="1058.41" cy="223.67" r="2.2" fill="#ca0020"/>
<circle cx="1058.41" cy="232.58" r="3.5" fill="#ca0020"/>
<circle cx="1058.41" cy="241.48" r="2.8" fill="#ca0020"/>
<circle cx="1058.41" cy="250.38" r="3.5" fill="#ca0020"/>
<circle cx="1058.41" cy="259.29" r="2.8" fill="#ca0020"/>
<circle cx="1058.41" cy="268.19" r="3.5" fill="#ca0020"/>
<circle cx="1058.41" cy="285.99" r="2.8" fill="#ca0020"/>
<circle cx="1058.41" cy="294.9" r="2.2" fill="#ca0020"/>
<circle cx="1058.41" cy="303.8" r="2.2" fill="#0571b0"/>
<circle cx="1058.41" cy="312.7" r="1.6" fill="#0571b0"/>
<circle cx="1058.41" cy="321.61" r="1.6" fill="#0571b0"/>
<circle cx="1058.41" cy="330.51" r="1.6" fill="#0571b0"/>
<circle cx="1091.47" cy="116.84" r="2.8" fill="#ca0020"/>
<circle cx="1091.47" cy="134.64" r="2.8" fill="#ca0020"/>
<circle cx="1091.47" cy="143.55" r="2.8" fill="#ca0020"/>
<circle cx="1091.47" cy="152.45" r="2.8" fill="#ca0020"/>
<circle cx="1091.47" cy="161.35" r="2.2" fill="#ca0020"/>
<circle cx="1091.47" cy="170.25" r="2.2" fill="#ca0020"/>
<circle cx="1091.47" cy="179.16" r="2.2" fill="#ca0020"/>
<circle cx="1091.47" cy="188.06" r="3.5" fill="#ca0020"/>
<circle cx="1091.47" cy="196.96" r="2.2" fill="#ca0020"/>
<circle cx="1091.47" cy="205.87" r="2.2" fill="#ca0020"/>
<circle cx="1091.47" cy="214.77" r="2.8" fill="#ca0020"/>
<circle cx="1091.47" cy="223.67" r="2.2" fill="#ca0020"/>
<circle cx="1091.47" cy="232.58" r="3.5" fill="#ca0020"/>
<circle cx="1091.47" cy="241.48" r="1.6" fill="#ca0020"/>
<circle cx="1091.47" cy="250.38" r="2.2" fill="#ca0020"/>
<circle cx="1091.47" cy="259.29" r="3.5" fill="#ca0020"/>
<circle cx="1091.47" cy="268.19" r="2.2" fill="#ca0020"/>
<circle cx="1091.47" cy="277.09" r="2.2" fill="#ca0020"/>
<circle cx="1091.47" cy="285.99" r="1.6" fill="#ca0020"/>
<circle cx="1091.47" cy="294.9" r="1.6" fill="#ca0020"/>
<circle cx="1091.47" cy="303.8" r="2.2" fill="#0571b0"/>
<circle cx="1091.47" cy="312.7" r="1.6" fill="#0571b0"/>
<line x1="50" y1="623" x2="1108" y2="623" stroke="rgba(0,0,0,0.86)" stroke-width="2"/>
<line x1="50" y1="647" x2="1108" y2="647" stroke="rgba(0,0,0,0.86)" stroke-width="2"/>
<line x1="83.06" y1="622" x2="83.06" y2="648" stroke="rgba(0,0,0,0.86)" stroke-width="2"/>
<line x1="116.12" y1="622" x2="116.12" y2="648" stroke="rgba(0,0,0,0.86)" stroke-width="2"/>
<line x1="149.19" y1="622" x2="149.19" y2="648" stroke="rgba(0,0,0,0.86)" stroke-width="2"/>
<line x1="182.25" y1="597.6" x2="182.25" y2="648" stroke="rgba(0,0,0,0.96)" stroke-width="2"/>
<line x1="215.31" y1="622" x2="215.31" y2="648" stroke="rgba(0,0,0,0.86)" stroke-width="2"/>
<line x1="248.38" y1="622" x2="248.38" y2="648" stroke="rgba(0,0,0,0.86)" stroke-width="2"/>
<line x1="281.44" y1="622" x2="281.44" y2="648" stroke="rgba(0,0,0,0.86)" stroke-width="2"/>
<line x1="314.5" y1="597.6" x2="314.5" y2="648" stroke="rgba(0,0,0,0.96)" stroke-width="2"/>
<line x1="347.56" y1="622" x2="347.56" y2="648" stroke="rgba(0,0,0,0.86)" stroke-width="2"/>
<line x1="380.62" y1="622" x2="380.62" y2="648" stroke="rgba(0,0,0,0.86)" stroke-width="2"/>
<line x1="413.69" y1="622" x2="413.69" y2="648" stroke="rgba(0,0,0,0.86)" stroke-width="2"/>
<line x1="446.75" y1="597.6" x2="446.75" y2="648" stroke="rgba(0,0,0,0.96)" stroke-width="2"/>
<line x1="479.81" y1="622" x2="479.81" y2="648" stroke="rgba(0,0,0,0.86)" stroke-width="2"/>
<line x1="512.88" y1="622" x2="512.88" y2="648" stroke="rgba(0,0,0,0.86)" stroke-width="2"/>
<line x1="545.94" y1="622" x2="545.94" y2="648" stroke="rgba(0,0,0,0.86)" stroke-width="2"/>
<line x1="579" y1="597.6" x2="579" y2="648" stroke="rgba(0,0,0,0.96)" stroke-width="2"/>
<line x1="612.06" y1="622" x2="612.06" y2="648" stroke="rgba(0,0,0,0.86)" stroke-width="2"/>
<line x1="645.12" y1="622" x2="645.12" y2="648" stroke="rgba(0,0,0,0.86)" stroke-width="2"/>
<line x1="678.19" y1="622" x2="678.19" y2="648" stroke="rgba(0,0,0,0.86)" stroke-width="2"/>
<line x1="711.25" y1="597.6" x2="711.25" y2="648" stroke="rgba(0,0,0,0.96)" stroke-width="2"/>
<line x1="744.31" y1="622" x2="744.31" y2="648" stroke="rgba(0,0,0,0.86)" stroke-width="2"/>
<line x1="777.38" y1="622" x2="777.38" y2="648" stroke="rgba(0,0,0,0.86)" stroke-width="2"/>
<line x1="810.44" y1="622" x2="810.44" y2="648" stroke="rgba(0,0,0,0.86)" stroke-width="2"/>
<line x1="843.5" y1="597.6" x2="843.5" y2="648" stroke="rgba(0,0,0,0.96)" stroke-width="2"/>
<line x1="876.56" y1="622" x2="876.56" y2="648" stroke="rgba(0,0,0,0.86)" stroke-width="2"/>
<line x1="909.62" y1="622" x2="909.62" y2="648" stroke="rgba(0,0,0,0.86)" stroke-width="2"/>
<line x1="942.69" y1="622" x2="942.69" y2="648" stroke="rgba(0,0,0,0.86)" stroke-width="2"/>
<line x1="975.75" y1="597.6" x2="975.75" y2="648" stroke="rgba(0,0,0,0.96)" stroke-width="2"/>
<line x1="1008.81" y1="622" x2="1008.81" y2="648" stroke="rgba(0,0,0,0.86)" stroke-width="2"/>
<line x1="1041.88" y1="622" x2="1041.88" y2="648" stroke="rgba(0,0,0,0.86)" stroke-width="2"/>
<line x1="1074.94" y1="622" x2="1074.94" y2="648" stroke="rgba(0,0,0,0.86)" stroke-width="2"/>
<line x1="50" y1="9" x2="50" y2="648" stroke="#000" stroke-width="2"/>
<line x1="1108" y1="9" x2="1108" y2="648" stroke="#000" stroke-width="2"/>
<line x1="49" y1="10" x2="1109" y2="10" stroke="#000" stroke-width="2"/>
<line x1="44" y1="598.2" x2="49" y2="598.2" stroke="#000" stroke-width="1.1"/>
<line x1="44" y1="571.49" x2="49" y2="571.49" stroke="#000" stroke-width="1.1"/>
<text x="40" y="574.79" font-size="12.2" text-anchor="end" fill="#000" textLength="19.6" lengthAdjust="spacingAndGlyphs">-30</text>
<line x1="44" y1="526.98" x2="49" y2="526.98" stroke="#000" stroke-width="1.1"/>
<line x1="44" y1="482.46" x2="49" y2="482.46" stroke="#000" stroke-width="1.1"/>
<text x="40" y="485.76" font-size="12.2" text-anchor="end" fill="#000" textLength="19.6" lengthAdjust="spacingAndGlyphs">-20</text>
<line x1="44" y1="437.94" x2="49" y2="437.94" stroke="#000" stroke-width="1.1"/>
<line x1="44" y1="393.43" x2="49" y2="393.43" stroke="#000" stroke-width="1.1"/>
<text x="40" y="396.73" font-size="12.2" text-anchor="end" fill="#000" textLength="19.6" lengthAdjust="spacingAndGlyphs">-10</text>
<line x1="44" y1="348.91" x2="49" y2="348.91" stroke="#000" stroke-width="1.1"/>
<line x1="44" y1="304.4" x2="49" y2="304.4" stroke="#000" stroke-width="1.1"/>
<text x="40" y="307.7" font-size="12.2" text-anchor="end" fill="#000" textLength="7.63" lengthAdjust="spacingAndGlyphs">0</text>
<line x1="44" y1="259.88" x2="49" y2="259.88" stroke="#000" stroke-width="1.1"/>
<line x1="44" y1="215.37" x2="49" y2="215.37" stroke="#000" stroke-width="1.1"/>
<text x="40" y="218.67" font-size="12.2" text-anchor="end" fill="#000" textLength="15.27" lengthAdjust="spacingAndGlyphs">10</text>
<line x1="44" y1="170.85" x2="49" y2="170.85" stroke="#000" stroke-width="1.1"/>
<line x1="44" y1="126.34" x2="49" y2="126.34" stroke="#000" stroke-width="1.1"/>
<text x="40" y="129.64" font-size="12.2" text-anchor="end" fill="#000" textLength="15.27" lengthAdjust="spacingAndGlyphs">20</text>
<line x1="44" y1="81.82" x2="49" y2="81.82" stroke="#000" stroke-width="1.1"/>
<line x1="44" y1="37.31" x2="49" y2="37.31" stroke="#000" stroke-width="1.1"/>
<text x="40" y="40.61" font-size="12.2" text-anchor="end" fill="#000" textLength="15.27" lengthAdjust="spacingAndGlyphs">30</text>
<line x1="44" y1="10.6" x2="49" y2="10.6" stroke="#000" stroke-width="1.1"/>
<text transform="translate(18.6,405.2) rotate(-90)" x="0 15.09 26.09 50.15 65.83 81.03 91.18 106.32 116 131.65 141.81 156.46 164.31 173.95 191.2" y="0" font-size="24.8" fill="#444">Temperature (C)</text>
<text x="116.12" y="614.9" font-size="16.3" text-anchor="middle" fill="#000" textLength="27.66" lengthAdjust="spacingAndGlyphs">Oct</text>
<text x="66.53" y="643" font-size="16.3" text-anchor="middle" fill="#000" textLength="10.18" lengthAdjust="spacingAndGlyphs">1</text>
<text x="99.59" y="643" font-size="16.3" text-anchor="middle" fill="#000" textLength="10.18" lengthAdjust="spacingAndGlyphs">2</text>
<text x="132.66" y="643" font-size="16.3" text-anchor="middle" fill="#000" textLength="10.18" lengthAdjust="spacingAndGlyphs">3</text>
<text x="165.72" y="643" font-size="16.3" text-anchor="middle" fill="#000" textLength="10.18" lengthAdjust="spacingAndGlyphs">4</text>
<text x="248.38" y="614.9" font-size="16.3" text-anchor="middle" fill="#000" textLength="31.23" lengthAdjust="spacingAndGlyphs">Nov</text>
<text x="198.78" y="643" font-size="16.3" text-anchor="middle" fill="#000" textLength="10.18" lengthAdjust="spacingAndGlyphs">1</text>
<text x="231.84" y="643" font-size="16.3" text-anchor="middle" fill="#000" textLength="10.18" lengthAdjust="spacingAndGlyphs">2</text>
<text x="264.91" y="643" font-size="16.3" text-anchor="middle" fill="#000" textLength="10.18" lengthAdjust="spacingAndGlyphs">3</text>
<text x="297.97" y="643" font-size="16.3" text-anchor="middle" fill="#000" textLength="10.18" lengthAdjust="spacingAndGlyphs">4</text>
<text x="380.62" y="614.9" font-size="16.3" text-anchor="middle" fill="#000" textLength="30.96" lengthAdjust="spacingAndGlyphs">Dec</text>
<text x="331.03" y="643" font-size="16.3" text-anchor="middle" fill="#000" textLength="10.18" lengthAdjust="spacingAndGlyphs">1</text>
<text x="364.09" y="643" font-size="16.3" text-anchor="middle" fill="#000" textLength="10.18" lengthAdjust="spacingAndGlyphs">2</text>
<text x="397.16" y="643" font-size="16.3" text-anchor="middle" fill="#000" textLength="10.18" lengthAdjust="spacingAndGlyphs">3</text>
<text x="430.22" y="643" font-size="16.3" text-anchor="middle" fill="#000" textLength="10.18" lengthAdjust="spacingAndGlyphs">4</text>
<text x="512.88" y="614.9" font-size="16.3" text-anchor="middle" fill="#000" textLength="24.66" lengthAdjust="spacingAndGlyphs">Jan</text>
<text x="463.28" y="643" font-size="16.3" text-anchor="middle" fill="#000" textLength="10.18" lengthAdjust="spacingAndGlyphs">1</text>
<text x="496.34" y="643" font-size="16.3" text-anchor="middle" fill="#000" textLength="10.18" lengthAdjust="spacingAndGlyphs">2</text>
<text x="529.41" y="643" font-size="16.3" text-anchor="middle" fill="#000" textLength="10.18" lengthAdjust="spacingAndGlyphs">3</text>
<text x="562.47" y="643" font-size="16.3" text-anchor="middle" fill="#000" textLength="10.18" lengthAdjust="spacingAndGlyphs">4</text>
<text x="645.12" y="614.9" font-size="16.3" text-anchor="middle" fill="#000" textLength="28.33" lengthAdjust="spacingAndGlyphs">Feb</text>
<text x="595.53" y="643" font-size="16.3" text-anchor="middle" fill="#000" textLength="10.18" lengthAdjust="spacingAndGlyphs">1</text>
<text x="628.59" y="643" font-size="16.3" text-anchor="middle" fill="#000" textLength="10.18" lengthAdjust="spacingAndGlyphs">2</text>
<text x="661.66" y="643" font-size="16.3" text-anchor="middle" fill="#000" textLength="10.18" lengthAdjust="spacingAndGlyphs">3</text>
<text x="694.72" y="643" font-size="16.3" text-anchor="middle" fill="#000" textLength="10.18" lengthAdjust="spacingAndGlyphs">4</text>
<text x="777.38" y="614.9" font-size="16.3" text-anchor="middle" fill="#000" textLength="30.19" lengthAdjust="spacingAndGlyphs">Mar</text>
<text x="727.78" y="643" font-size="16.3" text-anchor="middle" fill="#000" textLength="10.18" lengthAdjust="spacingAndGlyphs">1</text>
<text x="760.84" y="643" font-size="16.3" text-anchor="middle" fill="#000" textLength="10.18" lengthAdjust="spacingAndGlyphs">2</text>
<text x="793.91" y="643" font-size="16.3" text-anchor="middle" fill="#000" textLength="10.18" lengthAdjust="spacingAndGlyphs">3</text>
<text x="826.97" y="643" font-size="16.3" text-anchor="middle" fill="#000" textLength="10.18" lengthAdjust="spacingAndGlyphs">4</text>
<text x="909.62" y="614.9" font-size="16.3" text-anchor="middle" fill="#000" textLength="27.68" lengthAdjust="spacingAndGlyphs">Apr</text>
<text x="860.03" y="643" font-size="16.3" text-anchor="middle" fill="#000" textLength="10.18" lengthAdjust="spacingAndGlyphs">1</text>
<text x="893.09" y="643" font-size="16.3" text-anchor="middle" fill="#000" textLength="10.18" lengthAdjust="spacingAndGlyphs">2</text>
<text x="926.16" y="643" font-size="16.3" text-anchor="middle" fill="#000" textLength="10.18" lengthAdjust="spacingAndGlyphs">3</text>
<text x="959.22" y="643" font-size="16.3" text-anchor="middle" fill="#000" textLength="10.18" lengthAdjust="spacingAndGlyphs">4</text>
<text x="1041.88" y="614.9" font-size="16.3" text-anchor="middle" fill="#000" textLength="33.08" lengthAdjust="spacingAndGlyphs">May</text>
<text x="992.28" y="643" font-size="16.3" text-anchor="middle" fill="#000" textLength="10.18" lengthAdjust="spacingAndGlyphs">1</text>
<text x="1025.34" y="643" font-size="16.3" text-anchor="middle" fill="#000" textLength="10.18" lengthAdjust="spacingAndGlyphs">2</text>
<text x="1058.41" y="643" font-size="16.3" text-anchor="middle" fill="#000" textLength="10.18" lengthAdjust="spacingAndGlyphs">3</text>
<text x="1091.47" y="643" font-size="16.3" text-anchor="middle" fill="#000" textLength="10.18" lengthAdjust="spacingAndGlyphs">4</text>
</svg></body></html>
